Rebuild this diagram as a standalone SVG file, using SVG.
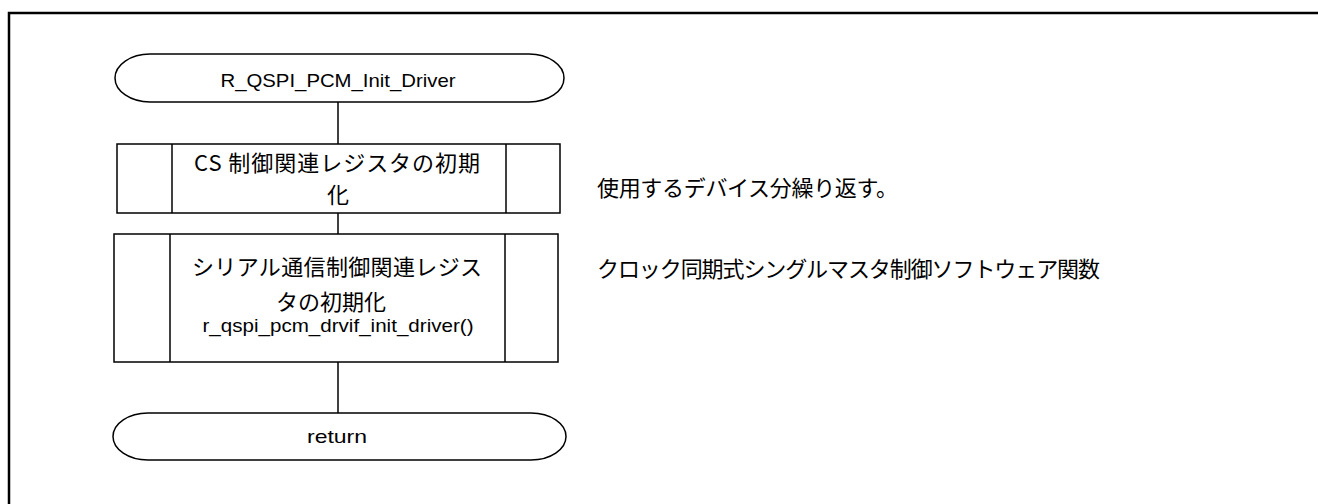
<svg xmlns="http://www.w3.org/2000/svg" width="1318" height="504" viewBox="0 0 1318 504">
<style>
.s{fill:#fff;stroke:#000;stroke-width:1.5}
.l{stroke:#000;stroke-width:1.5;fill:none}
.t{font-family:"Liberation Sans","Noto Sans CJK JP",sans-serif;font-size:19px;fill:#000;text-anchor:middle}
.j{font-family:"Noto Sans CJK JP",sans-serif;font-size:22px;fill:#000}
.jm{text-anchor:middle}
</style>
<rect x="0" y="0" width="1318" height="504" fill="#fff"/>
<path d="M9,520 V13 H1330" fill="none" stroke="#000" stroke-width="2.5"/>
<g id="connectors">
<line class="l" x1="338" y1="102" x2="338" y2="144"/>
<line class="l" x1="338" y1="213" x2="338" y2="234"/>
<line class="l" x1="338" y1="362" x2="338" y2="413"/>
</g>
<g id="start">
<path class="s" d="M150,54 H529 A35,24 0 0 1 529,102 H150 A35,24 0 0 1 150,54 Z"/>
<text class="t" x="338" y="87" textLength="235" lengthAdjust="spacingAndGlyphs">R_QSPI_PCM_Init_Driver</text>
</g>
<g id="cs_init">
<rect class="s" x="117" y="144" width="443" height="69"/>
<line class="l" x1="172" y1="144" x2="172" y2="213"/>
<line class="l" x1="506" y1="144" x2="506" y2="213"/>
<text class="j jm" x="337" y="171" textLength="286" lengthAdjust="spacing">CS 制御関連レジスタの初期</text>
<text class="j jm" x="338" y="203">化</text>
</g>
<g id="serial_init">
<rect class="s" x="114" y="234" width="444" height="128"/>
<line class="l" x1="170" y1="234" x2="170" y2="362"/>
<line class="l" x1="505" y1="234" x2="505" y2="362"/>
<text class="j jm" x="337" y="275" textLength="290" lengthAdjust="spacing">シリアル通信制御関連レジス</text>
<text class="j jm" x="331" y="310">タの初期化</text>
<text class="t" x="338" y="332" textLength="271" lengthAdjust="spacingAndGlyphs">r_qspi_pcm_drvif_init_driver()</text>
</g>
<g id="end">
<path class="s" d="M148,413 H531 A35,23.5 0 0 1 531,460 H148 A35,23.5 0 0 1 148,413 Z"/>
<text class="t" x="337" y="443" textLength="60" lengthAdjust="spacingAndGlyphs">return</text>
</g>
<g id="notes">
<text class="j" x="597" y="196" textLength="301" lengthAdjust="spacing">使用するデバイス分繰り返す。</text>
<text class="j" x="597" y="277" textLength="503" lengthAdjust="spacing">クロック同期式シングルマスタ制御ソフトウェア関数</text>
</g>
</svg>
